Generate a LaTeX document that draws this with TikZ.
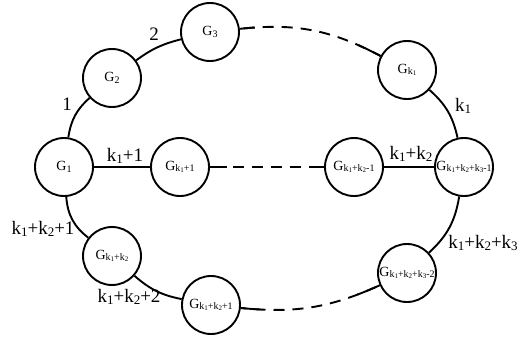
\documentclass[tikz,border=0pt]{standalone}
\usepackage{fontspec}
\setmainfont{Liberation Serif}
\newcommand{\lsb}[1]{\raisebox{-0.2ex}{\fontsize{13}{13}\selectfont #1}}
\newcommand{\nsb}[1]{\raisebox{-0.2ex}{\fontsize{10}{10}\selectfont #1}}
\newcommand{\nk}[1]{k\raisebox{-0.15ex}{\fontsize{7}{7}\selectfont #1}}
\begin{document}
\begin{tikzpicture}[x=1pt,y=1pt,
  gn/.style={circle,draw,line width=1.9pt,minimum size=58pt,inner sep=0pt,font=\fontsize{14}{14}\selectfont},
  edge/.style={line width=1.9pt},
  dsh/.style={line width=1.9pt,dash pattern=on 11pt off 8pt,dash phase=15pt},
  endseg/.style={line width=1.9pt,dash pattern=on #1 off 3000pt},
  lab/.style={font=\fontsize{19}{19}\selectfont,inner sep=0pt}]
\useasboundingbox (0,0) rectangle (519,341);
\node[gn] (g1) at (64,174) {G\nsb{1}};
\node[gn] (g2) at (112,263) {G\nsb{2}};
\node[gn] (g3) at (210,309) {G\nsb{3}};
\node[gn] (gk1) at (407,271) {G\nsb{\nk{1}}};
\node[gn] (gk1p1) at (180,174) {G\nsb{\nk{1}+1}};
\node[gn] (gk12m1) at (354,174) {G\nsb{\nk{1}+\nk{2}-1}};
\node[gn] (gk123m1) at (464,174) {G\nsb{\nk{1}+\nk{2}+\nk{3}-1}};
\node[gn] (gk12) at (112,85) {G\nsb{\nk{1}+\nk{2}}};
\node[gn] (gk12p1) at (211,36) {G\nsb{\nk{1}+\nk{2}+1}};
\node[gn] (gk123m2) at (407,68) {G\nsb{\nk{1}+\nk{2}+\nk{3}-2}};
% solid edges
\draw[edge] (g1) to[bend left=20] (g2);
\draw[edge] (g2) to[bend left=11] (g3);
\draw[edge] (gk1) to[bend left=18] (gk123m1);
\draw[edge] (g1) -- (gk1p1);
\draw[edge] (gk12m1) -- (gk123m1);
\draw[edge] (gk123m1) to[bend left=19] (gk123m2);
\draw[edge] (gk12p1) to[bend left=15] (gk12);
\draw[edge] (gk12) to[bend left=24] (g1);
% dashed edges with solid ends
\draw[dsh] (g3) to[bend left=17] (gk1);
\draw[endseg=15pt] (g3) to[bend left=17] (gk1);
\draw[endseg=25pt] (gk1) to[bend right=17] (g3);
\draw[dsh] (gk1p1) -- (gk12m1);
\draw[endseg=17pt] (gk1p1) -- (gk12m1);
\draw[endseg=15pt] (gk12m1) -- (gk1p1);
\draw[dsh] (gk123m2) to[bend left=15] (gk12p1);
\draw[endseg=24pt] (gk123m2) to[bend left=15] (gk12p1);
\draw[endseg=20pt] (gk12p1) to[bend right=15] (gk123m2);
% labels
\node[lab] (l1) at (67,237) {1};
\node[lab] (l2) at (154,307) {2};
\node[lab] (lk1) at (463,235) {k\lsb{1}};
\node[lab] (lk1p1) at (125,185) {k\lsb{1}+1};
\node[lab] (lk12) at (411,187) {k\lsb{1}+k\lsb{2}};
\node[lab] (lk12p1) at (43,112) {k\lsb{1}+k\lsb{2}+1};
\node[lab] (lk12p2) at (129,44) {k\lsb{1}+k\lsb{2}+2};
\node[lab] (lk123) at (483,98) {k\lsb{1}+k\lsb{2}+k\lsb{3}};
\end{tikzpicture}
\end{document}
